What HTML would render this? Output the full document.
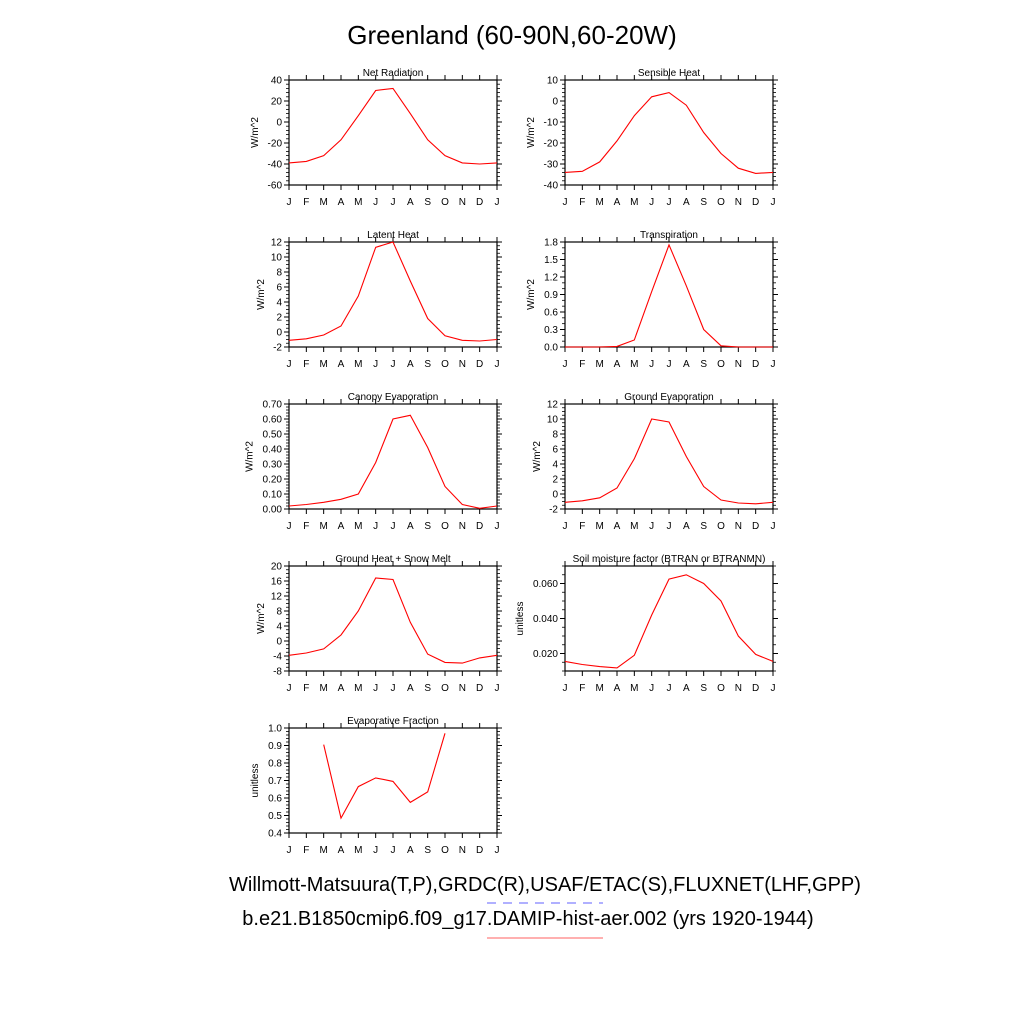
<!DOCTYPE html>
<html><head><meta charset="utf-8"><style>
body{margin:0;background:#fff;}
svg text{font-family:"Liberation Sans",sans-serif;fill:#000;}
</style></head><body>
<svg id="fig" width="1024" height="1024" viewBox="0 0 1024 1024" xmlns="http://www.w3.org/2000/svg">
<text x="512" y="44" font-size="26" text-anchor="middle">Greenland (60-90N,60-20W)</text>
<text x="545" y="891" font-size="20" text-anchor="middle">Willmott-Matsuura(T,P),GRDC(R),USAF/ETAC(S),FLUXNET(LHF,GPP)</text>
<line x1="487" y1="903" x2="603" y2="903" stroke="#8080ff" stroke-width="1.2" stroke-dasharray="9,7"/>
<text x="528" y="925" font-size="20" text-anchor="middle">b.e21.B1850cmip6.f09_g17.DAMIP-hist-aer.002 (yrs 1920-1944)</text>
<line x1="487" y1="938" x2="603" y2="938" stroke="#ff8080" stroke-width="1.2"/>
</svg>
<script>
const months=["J","F","M","A","M","J","J","A","S","O","N","D","J"];
const netRad=[-39,-37.5,-32,-17,6,30,32,8,-17,-32,-39,-40,-39];
const sensible=[-34,-33.5,-29,-19,-7,2,4,-2,-15,-25,-32,-34.5,-34];
const latent=[-1.1,-0.9,-0.4,0.8,4.8,11.3,12,6.8,1.8,-0.5,-1.1,-1.2,-1.0];
const transp=[0,0,0,0.01,0.12,0.95,1.75,1.05,0.3,0.02,0,0,0];
const canopy=[0.02,0.03,0.045,0.065,0.1,0.31,0.6,0.625,0.41,0.15,0.03,0.005,0.02];
const groundEvap=[-1.1,-0.9,-0.5,0.8,4.7,10,9.6,5,1,-0.8,-1.2,-1.3,-1.1];
const groundHeat=[-3.8,-3.2,-2.1,1.6,8,16.8,16.4,5,-3.5,-5.7,-5.9,-4.5,-3.8];
const soil=[0.0155,0.0137,0.0125,0.0118,0.019,0.042,0.0625,0.065,0.060,0.050,0.030,0.0195,0.0155];
const evapFrac=[null,null,0.905,0.485,0.665,0.715,0.695,0.575,0.635,0.97,null,null,null];
const ticksNet=[-60,-40,-20,0,20,40];
const ticksSens=[-40,-30,-20,-10,0,10];
const ticksLat=[-2,0,2,4,6,8,10,12];
const ticksTr=[0,0.3,0.6,0.9,1.2,1.5,1.8];
const ticksCan=[0,0.1,0.2,0.3,0.4,0.5,0.6,0.7];
const ticksGH=[-8,-4,0,4,8,12,16,20];
const ticksSoil=[0.02,0.04,0.06];
const ticksEF=[0.4,0.5,0.6,0.7,0.8,0.9,1.0];

const NS="http://www.w3.org/2000/svg";
const svg=document.getElementById('fig');
function mk(tag,attrs,parent){const e=document.createElementNS(NS,tag);for(const k in attrs)e.setAttribute(k,attrs[k]);(parent||svg).appendChild(e);return e;}

const panels=[
 {name:"net-radiation",title:"Net Radiation",x:289,y:80,data:netRad,ymin:-60,ymax:40,ticks:ticksNet,dec:0,minor:4,ylab:"W/m^2"},
 {name:"sensible-heat",title:"Sensible Heat",x:565,y:80,data:sensible,ymin:-40,ymax:10,ticks:ticksSens,dec:0,minor:4,ylab:"W/m^2"},
 {name:"latent-heat",title:"Latent Heat",x:289,y:242,data:latent,ymin:-2,ymax:12,ticks:ticksLat,dec:0,minor:3,ylab:"W/m^2"},
 {name:"transpiration",title:"Transpiration",x:565,y:242,data:transp,ymin:0,ymax:1.8,ticks:ticksTr,dec:1,minor:2,ylab:"W/m^2"},
 {name:"canopy-evaporation",title:"Canopy Evaporation",x:289,y:404,data:canopy,ymin:0,ymax:0.7,ticks:ticksCan,dec:2,minor:4,ylab:"W/m^2"},
 {name:"ground-evaporation",title:"Ground Evaporation",x:565,y:404,data:groundEvap,ymin:-2,ymax:12,ticks:ticksLat,dec:0,minor:3,ylab:"W/m^2"},
 {name:"ground-heat-snow-melt",title:"Ground Heat + Snow Melt",x:289,y:566,data:groundHeat,ymin:-8,ymax:20,ticks:ticksGH,dec:0,minor:3,ylab:"W/m^2"},
 {name:"soil-moisture-factor",title:"Soil moisture factor (BTRAN or BTRANMN)",x:565,y:566,data:soil,ymin:0.010,ymax:0.070,ticks:ticksSoil,dec:3,minor:3,ylab:"unitless"},
 {name:"evaporative-fraction",title:"Evaporative Fraction",x:289,y:728,data:evapFrac,ymin:0.4,ymax:1.0,ticks:ticksEF,dec:1,minor:4,ylab:"unitless"}
];
const W=208,H=105;
panels.forEach(p=>{
 const g=mk('g',{});
 
 
 const xs=i=>p.x+i*W/12;
 const ys=v=>p.y+H-(v-p.ymin)/(p.ymax-p.ymin)*H;
 const box=mk('rect',{x:p.x,y:p.y,width:W,height:H,fill:'none',stroke:'#000','stroke-width':1.2},g);
 
 
 const t=mk('text',{x:p.x+W/2,y:p.y-4,'font-size':10,'text-anchor':'middle'},g);
 
 
 t.textContent=p.title;
 // x ticks
 months.forEach((m,i)=>{
  const x=xs(i);
  mk('line',{x1:x,y1:p.y+H,x2:x,y2:p.y+H+5,stroke:'#000'},g);
  mk('line',{x1:x,y1:p.y,x2:x,y2:p.y-5,stroke:'#000'},g);
  const lt=mk('text',{x:x,y:p.y+H+20,'font-size':10,'text-anchor':'middle'},g);
  
  
  lt.textContent=m;
 });
 // y ticks
 let maxw=0;
 p.ticks.forEach((v,k)=>{
  const y=ys(v);
  mk('line',{x1:p.x-5,y1:y,x2:p.x,y2:y,stroke:'#000'},g);
  mk('line',{x1:p.x+W,y1:y,x2:p.x+W+5,y2:y,stroke:'#000'},g);
  const lt=mk('text',{x:p.x-7,y:y+3.5,'font-size':10,'text-anchor':'end'},g);
  
  
  lt.textContent=v.toFixed(p.dec);
  maxw=Math.max(maxw,lt.textContent.length*5.6);
 });
 // minor ticks
 const step=p.ticks[1]-p.ticks[0], ms=step/(p.minor+1);
 for(let v=p.ticks[0]-step;v<=p.ymax+1e-9;v+=ms){
  if(v<p.ymin-1e-9)continue;
  const y=ys(v);
  mk('line',{x1:p.x-3,y1:y,x2:p.x,y2:y,stroke:'#000','stroke-width':0.8},g);
  mk('line',{x1:p.x+W,y1:y,x2:p.x+W+3,y2:y,stroke:'#000','stroke-width':0.8},g);
 }
 const yl=mk('text',{'font-size':10,'text-anchor':'middle',transform:`translate(${p.x-maxw-14},${p.y+H/2}) rotate(-90)`},g);
 
 
 yl.textContent=p.ylab;
 // series
 let d='',pen=false;
 p.data.forEach((v,i)=>{
  if(v===null){pen=false;return;}
  d+=(pen?'L':'M')+xs(i).toFixed(1)+','+ys(v).toFixed(1);pen=true;
 });
 const ln=mk('path',{d:d,fill:'none',stroke:'#ff0000','stroke-width':1.1},g);
 
 
});
</script>
</body></html>
